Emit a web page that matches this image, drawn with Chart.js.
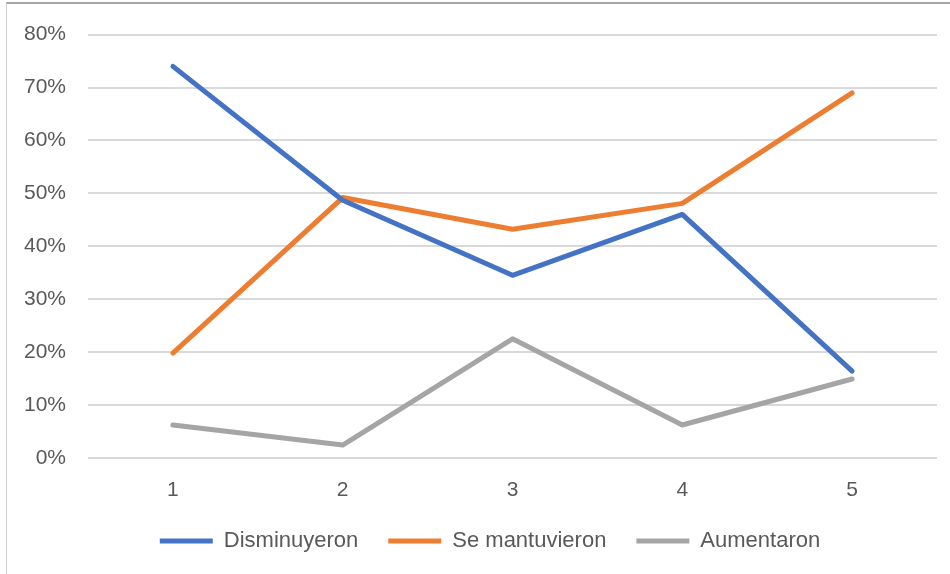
<!DOCTYPE html>
<html lang="es">
<head>
    <meta charset="UTF-8">
    <title>Disminuyeron / Se mantuvieron / Aumentaron</title>
    <script src="https://cdn.jsdelivr.net/npm/chart.js@4.4.1/dist/chart.umd.min.js"></script>
    <style>
        body, html {
            margin: 0;
            padding: 0;
            background: #fff;
        }
        #frame {
            position: absolute;
            left: 6px;
            top: 2px;
            width: 1000px;
            height: 600px;
            border-left: 1px solid #d0d0d0;
            border-top: 2px solid #a6a6a6;
        }
        #wrap {
            position: absolute;
            left: 0;
            top: 0;
            width: 950px;
            height: 574px;
        }
    </style>
</head>
<body>
    <div id="frame"></div>
    <div id="wrap"><canvas id="myChart"></canvas></div>

    <script>
        // Data
        const categories = ['1', '2', '3', '4', '5'];
        const disminuyeron = [0.74, 0.487, 0.345, 0.46, 0.164];
        const seMantuvieron = [0.198, 0.492, 0.432, 0.481, 0.69];
        const aumentaron = [0.062, 0.024, 0.225, 0.062, 0.149];

        const textColor = '#595959';
        const fontFamily = "'Liberation Sans', Arial, sans-serif";

        function lineSet(label, data, color) {
            return {
                label: label,
                data: data,
                borderColor: color,
                backgroundColor: color,
                borderWidth: 5,
                borderCapStyle: 'round',
                borderJoinStyle: 'round',
                pointRadius: 0,
                pointStyle: 'line',
                tension: 0
            };
        }

        // Legend in the original sits a bit right of the canvas centre
        const legendShift = {
            id: 'legendShift',
            afterLayout(chart) {
                chart.legend.left += 43;
            }
        };

        const ctx = document.getElementById('myChart').getContext('2d');
        const myChart = new Chart(ctx, {
            type: 'line',
            data: {
                labels: categories,
                datasets: [
                    lineSet('Disminuyeron', disminuyeron, '#4472C4'),
                    lineSet('Se mantuvieron', seMantuvieron, '#ED7D31'),
                    lineSet('Aumentaron', aumentaron, '#A5A5A5')
                ]
            },
            plugins: [legendShift],
            options: {
                responsive: true,
                maintainAspectRatio: false,
                animation: false,
                layout: {
                    padding: { top: 22, right: 13, bottom: 12, left: 0 }
                },
                plugins: {
                    tooltip: { enabled: false },
                    legend: {
                        position: 'bottom',
                        labels: {
                            usePointStyle: true,
                            pointStyle: 'line',
                            pointStyleWidth: 53,
                            boxHeight: 5,
                            padding: 30,
                            color: textColor,
                            font: { family: fontFamily, size: 22 }
                        }
                    }
                },
                scales: {
                    x: {
                        offset: true,
                        afterFit: (scale) => { scale.height = scale.height - 15; },
                        grid: { display: false },
                        border: { display: false },
                        ticks: {
                            color: textColor,
                            padding: 12,
                            font: { family: fontFamily, size: 21 }
                        }
                    },
                    y: {
                        min: 0,
                        max: 0.8,
                        afterFit: (scale) => { scale.width = 88; },
                        grid: { color: '#d9d9d9', lineWidth: 2, drawTicks: false },
                        border: { display: false },
                        ticks: {
                            stepSize: 0.1,
                            color: textColor,
                            padding: 22,
                            font: { family: fontFamily, size: 21 },
                            callback: (v) => Math.round(v * 100) + '%'
                        }
                    }
                }
            }
        });
    </script>
</body>
</html>
